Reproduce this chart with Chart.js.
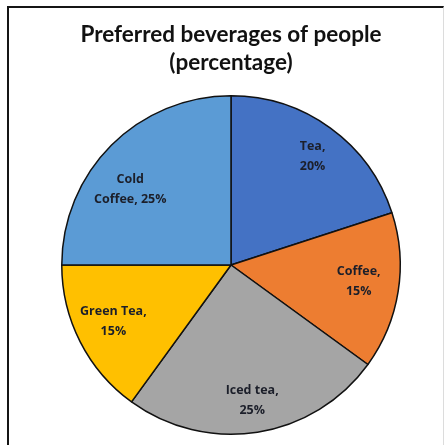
<!DOCTYPE html>
<html>
<head>
<meta charset="utf-8">
<script src="https://cdn.jsdelivr.net/npm/chart.js@4.4.1/dist/chart.umd.min.js"></script>
<style>
  html, body { margin: 0; padding: 0; background: #fff; }
  #wrap { position: relative; width: 446px; height: 445px; }
  #frame {
    position: absolute; left: 7px; top: 6px; width: 437px; height: 445px;
    border-left: 2px solid #151515; border-top: 2px solid #151515;
    border-right: 1px solid #dcdcdc; box-sizing: border-box;
  }
  canvas { position: absolute; left: 0; top: 0; }
</style>
</head>
<body>
<div id="wrap">
  <div id="frame"></div>
  <canvas id="pie" width="446" height="445"></canvas>
</div>
<script>
const categories = ["Tea", "Coffee", "Iced tea", "Green Tea", "Cold Coffee"];
const shares = [20, 15, 25, 15, 25];
const sliceColors = ["#4472C4", "#ED7D31", "#A5A5A5", "#FFC000", "#5B9BD5"];
// how Excel wrapped each data label
const labelLines = [
    ["Tea,", "20%"],
    ["Coffee,", "15%"],
    ["Iced tea,", "25%"],
    ["Green Tea,", "15%"],
    ["Cold", "Coffee, 25%"]
];
// small hand nudges (px) so labels sit where Excel put them
const labelNudge = [[2, 1], [-6, -5], [0, 2], [3, -5], [-5, 20]];

// draw the "Category, x%" labels inside each slice
const sliceLabels = {
    id: "sliceLabels",
    afterDatasetsDraw(chart) {
        const ctx = chart.ctx;
        const arcs = chart.getDatasetMeta(0).data;
        ctx.save();
        ctx.font = "bold 12.5px 'Open Sans'";
        ctx.fillStyle = "#1c1f2a";
        ctx.textAlign = "center";
        ctx.textBaseline = "middle";
        arcs.forEach((arc, i) => {
            const p = arc.getProps(["x", "y", "startAngle", "endAngle", "outerRadius"], true);
            const mid = (p.startAngle + p.endAngle) / 2;
            const r = p.outerRadius * 0.8;
            const cx = p.x + Math.cos(mid) * r + labelNudge[i][0];
            const cy = p.y + Math.sin(mid) * r + labelNudge[i][1];
            const lines = labelLines[i];
            const lh = 20;
            lines.forEach((t, k) => {
                ctx.fillText(t, cx, cy + (k - (lines.length - 1) / 2) * lh);
            });
        });
        ctx.restore();
    }
};

new Chart(document.getElementById("pie"), {
    type: "pie",
    data: {
        labels: categories,
        datasets: [{
            data: shares,
            backgroundColor: sliceColors,
            borderColor: "#111",
            borderWidth: 1.5
        }]
    },
    options: {
        responsive: false,
        animation: false,
        layout: {
            padding: { left: 61, right: 45, top: 0, bottom: 10 }
        },
        plugins: {
            legend: { display: false },
            tooltip: { enabled: false },
            title: {
                display: true,
                text: ["Preferred beverages of people", "(percentage)"],
                color: "#111",
                font: { family: "Lato", size: 22.5, weight: "bold", lineHeight: 1.245 },
                padding: { top: 21, bottom: 18 }
            }
        }
    },
    plugins: [sliceLabels]
});
</script>
</body>
</html>
